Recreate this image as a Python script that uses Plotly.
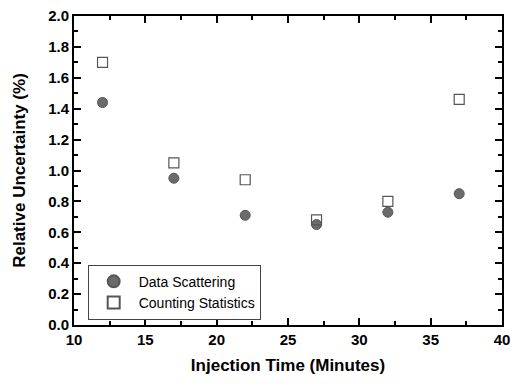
import plotly.graph_objects as go

time_min = [12, 17, 22, 27, 32, 37]
data_scattering = [1.44, 0.95, 0.71, 0.65, 0.73, 0.85]
counting_statistics = [1.70, 1.05, 0.94, 0.68, 0.80, 1.46]

fig = go.Figure()
fig.add_trace(go.Scatter(
    x=time_min, y=data_scattering, mode="markers", name="Data Scattering",
    marker=dict(symbol="circle", size=10, color="#6b6b6b", line=dict(color="#555555", width=1))))
fig.add_trace(go.Scatter(
    x=time_min, y=counting_statistics, mode="markers", name="Counting Statistics",
    marker=dict(symbol="square-open", size=10, color="#555555", line=dict(width=1.2))))

tfont = dict(family="Liberation Sans", size=15, color="black")
axis_common = dict(
    showline=True, linecolor="black", linewidth=2, mirror="allticks",
    ticks="inside", ticklen=7, tickwidth=2, tickcolor="black",
    showgrid=False, zeroline=False,
    tickfont=tfont, tickprefix="<b>", ticksuffix="</b>",
)
fig.update_xaxes(range=[10, 40], dtick=5, tick0=10,
                 minor=dict(dtick=2.5, ticks="inside", ticklen=4, tickwidth=2, tickcolor="black"),
                 title=dict(text="<b>Injection Time (Minutes)</b>", font=dict(family="Liberation Sans", size=17, color="black"), standoff=12),
                 **axis_common)
fig.update_yaxes(range=[0, 2.0], dtick=0.2, tick0=0, tickformat=".1f",
                 minor=dict(dtick=0.1, ticks="inside", ticklen=4, tickwidth=2, tickcolor="black"),
                 title=dict(text="<b>Relative Uncertainty (%)</b>", font=dict(family="Liberation Sans", size=17, color="black"), standoff=18),
                 **axis_common)

fig.update_layout(
    width=517, height=388,
    margin=dict(l=74, r=12, t=7, b=63),
    paper_bgcolor="white", plot_bgcolor="white",
    showlegend=True,
    legend=dict(x=0.032, y=0.195, xanchor="left", yanchor="top",
                bordercolor="#444444", borderwidth=1, bgcolor="white",
                font=dict(family="Liberation Sans", size=14, color="black"),
                tracegroupgap=0, itemsizing="constant", itemwidth=40),
)
fig.write_html("out.html", config={"displayModeBar": False},
               post_script="document.body.style.margin='0';document.body.style.overflow='hidden';")
